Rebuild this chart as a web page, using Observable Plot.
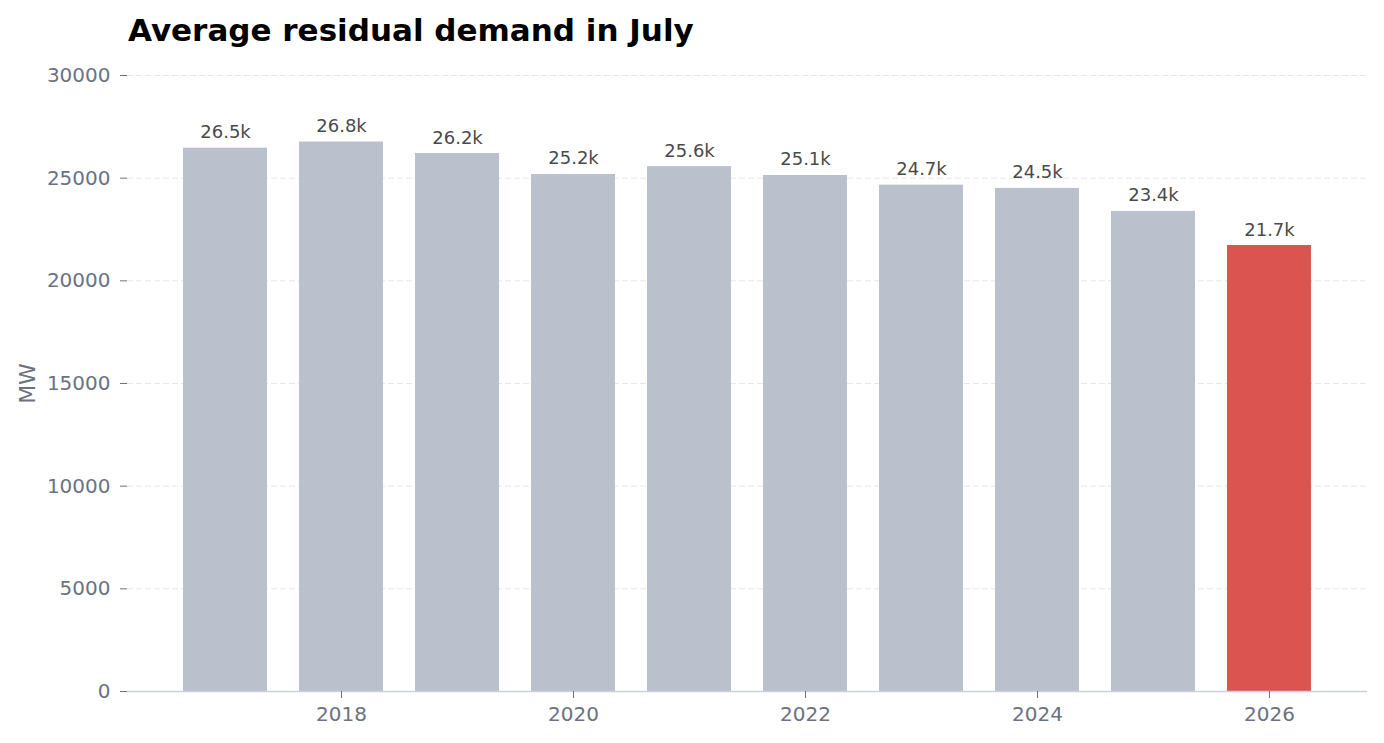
<!DOCTYPE html>
<html><head><meta charset="utf-8">
<script src="https://cdn.jsdelivr.net/npm/d3@7"></script>
<script src="https://cdn.jsdelivr.net/npm/@observablehq/plot@0.6"></script>
<style>
body{margin:0;background:#fff;font-family:"DejaVu Sans",sans-serif;}
#title{font-size:31px;font-weight:bold;line-height:31px;height:35px;padding:15px 0 0 128px;color:#000;white-space:nowrap;}
</style></head><body>
<div id="title">Average residual demand in July</div>
<div id="chart"></div>
<script>
const years = [2017, 2018, 2019, 2020, 2021, 2022, 2023, 2024, 2025, 2026];
const values = [26460, 26760, 26200, 25180, 25560, 25130, 24660, 24500, 23380, 21720];
const xTicks = [2018, 2020, 2022, 2024, 2026];
const yTicks = [0, 5000, 10000, 15000, 20000, 25000, 30000];
const yLabel = "MW";
const highlightYear = 2026;

const data = years.map((year, i) => ({year, value: values[i], label: (values[i] / 1000).toFixed(1) + "k"}));

const plot = Plot.plot({
  width: 1384,
  height: 693,
  marginTop: 25,
  marginBottom: 52,
  marginLeft: 127,
  marginRight: 17,
  style: {fontFamily: "DejaVu Sans", fontSize: "20px", background: "#fff", overflow: "visible"},
  x: {type: "band", domain: years, paddingInner: 0.276, paddingOuter: 0.483, round: false},
  y: {domain: [0, 30000]},
  marks: [
    Plot.gridY(yTicks, {stroke: "#e5e7eb", strokeOpacity: 1, strokeDasharray: "6,3"}),
    Plot.barY(data.filter(d => d.year !== highlightYear), {x: "year", y: "value", fill: "#bac1cc"}),
    Plot.barY(data.filter(d => d.year === highlightYear), {x: "year", y: "value", fill: "#dc544f"}),
    Plot.ruleY([0], {stroke: "#cbd1da", strokeWidth: 1.5}),
    Plot.text(data, {x: "year", y: "value", text: "label", dy: -10, lineAnchor: "bottom", fill: "#4a4a4a", fontSize: 18}),
    Plot.axisY({ticks: yTicks, tickFormat: d => String(d), tickSize: 7, tickPadding: 10, color: "#6b7280", label: null}),
    Plot.text([yLabel], {frameAnchor: "left", text: d => d, rotate: -90, dx: -100, lineAnchor: "middle", textAnchor: "middle", fill: "#6b7280", fontSize: 22}),
    Plot.axisX({ticks: xTicks, tickFormat: d => String(d), tickSize: 7, tickPadding: 8, color: "#6b7280", label: null})
  ]
});
document.getElementById("chart").appendChild(plot);
</script>
</body></html>
